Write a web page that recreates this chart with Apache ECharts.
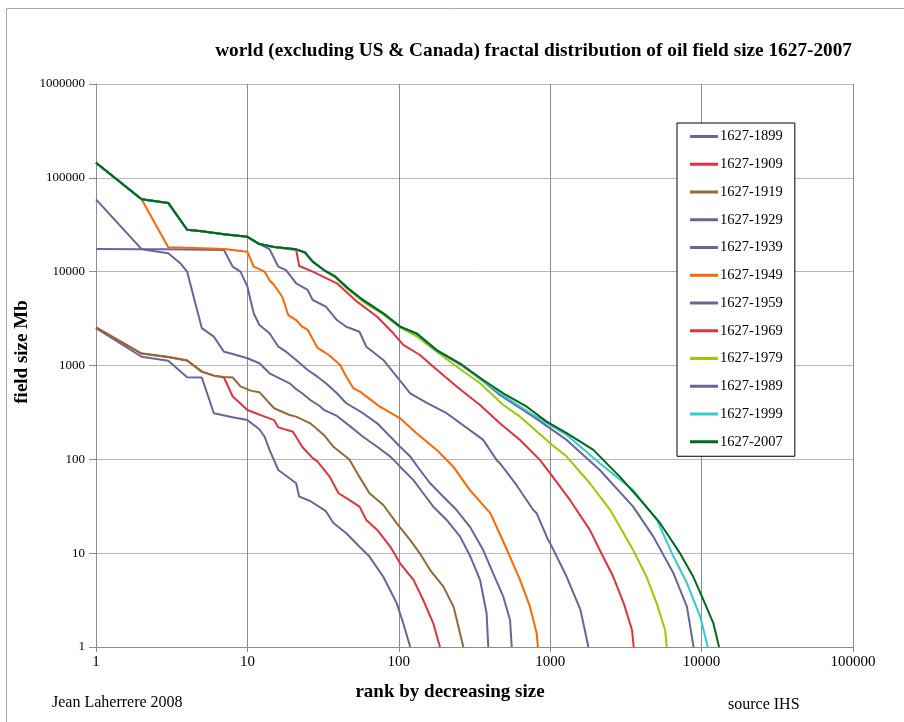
<!DOCTYPE html>
<html>
<head>
<meta charset="utf-8">
<script src="https://cdn.jsdelivr.net/npm/echarts@6/dist/echarts.min.js"></script>
<style>
html,body{margin:0;padding:0;background:#fff;}
#chart{width:904px;height:722px;}
</style>
</head>
<body>
<div id="chart"></div>
<script>
// ---- Data (rank, field size Mb) ----
const seriesNames = ['1627-1899','1627-1909','1627-1919','1627-1929','1627-1939','1627-1949',
                     '1627-1959','1627-1969','1627-1979','1627-1989','1627-1999','1627-2007'];

const xTickLabels = ['1','10','100','1000','10000','100000'];
const yTickLabels = ['1','10','100','1000','10000','100000','1000000'];

const s1899 = [[1,2500],[2,1240],[3,1125],[4,750],[5,745],[6,310],[8,281],[10,262],[12,209],[13,174],[14,126],[16,77],[21,55.6],[22,40],[26,36],[33,28],[37,21],[45,16.3],[55,11.7],[64,9.2],[79,5.6],[97,2.92],[107,1.79],[119,1]];
const s1909 = [[1,2550],[2,1340],[3,1230],[4,1130],[5,860],[6,780],[7,745],[8,467],[10,336],[13,285],[15,262],[16,219],[20,197],[23,136],[27,103],[29,95],[35,65],[40,43.5],[47,36.9],[55,31.3],[61,22.6],[72,17.7],[88,11.7],[102,7.8],[125,5.2],[145,3.17],[169,1.79],[187,1]];
const s1919 = [[1,2550],[2,1340],[3,1230],[4,1130],[5,860],[6,780],[7,755],[8,745],[9,600],[10.5,540],[12,520],[15,350],[19,297],[21,285],[26,242],[32,182],[37,136],[47,100],[55,65],[64,43.5],[79,32.6],[97,20.8],[119,13.8],[138,9.9],[161,6.6],[197,4.4],[230,2.69],[267,1]];
const s1929 = [[1,17400],[2,17300],[3,15700],[3.6,12300],[4,10000],[5,2500],[6,2030],[7,1403],[8,1327],[10,1195],[12,1056],[14,826],[19,646],[21,560],[23,506],[26,429],[30,370],[32,336],[39,290],[48,223],[58,174],[72,136],[88,107],[102,83.5],[125,60],[145,43.5],[169,31.3],[207,22.6],[254,15],[297,9.2],[344,5.2],[380,2.29],[390,1]];
const s1939 = [[1,59000],[2,17400],[4,17200],[7,17000],[8,11300],[9,10000],[10,6920],[11,3600],[12,2700],[14,2205],[16,1587],[18,1403],[21,1145],[25,896],[29,760],[33,646],[39,506],[45,396],[58,310],[72,242],[88,174],[102,136],[119,107],[138,77],[161,55.6],[197,40],[241,28.8],[295,19.1],[361,10.8],[420,6.1],[490,3.44],[543,1.94],[557,1]];
const s1949 = [[1,145000],[2,59000],[3,18200],[5,17800],[7,17400],[10,16300],[11,11300],[13,10000],[14,8100],[15,7210],[17,5410],[18.6,3450],[21,3050],[23,2590],[25,2400],[29,1550],[32,1400],[35,1270],[41,1013],[45,760],[50,575],[56,520],[75,364],[102,274],[131,190],[178,126],[229,83.5],[295,47],[403,26.6],[519,10.8],[632,5.2],[735,2.69],[814,1.4],[830,1]];
const s1959 = [[1,145000],[2,59000],[3,54000],[4,28000],[5,27000],[7,25000],[10,23500],[12,19700],[14,17400],[16,11300],[18,10400],[21,7520],[25,6380],[27,4990],[33,4230],[39,3050],[45,2590],[55,2290],[61,1587],[79,1145],[97,760],[119,506],[153,400],[207,310],[361,161],[443,98],[465,91],[600,53],[773,28.8],[814,26.6],[970,13.8],[1000,12.7],[1285,5.6],[1585,2.48],[1788,1]];
const s1969 = [[1,145000],[2,59000],[3,54000],[4,28000],[5,27000],[7,25000],[10,23500],[12,19700],[15,18300],[21,17000],[22,11500],[27,10000],[39,7520],[53,4790],[72,3310],[92,2205],[107,1655],[138,1294],[169,971],[242,594],[344,379],[465,242],[632,161],[857,98],[1000,71],[1350,36.9],[1827,17.7],[2125,10.8],[2610,5.6],[3060,2.92],[3470,1.52],[3560,1]];
const s1979 = [[1,145000],[2,59000],[3,54000],[4,28000],[5,27000],[7,25000],[10,23500],[12,19700],[15,18300],[21,17300],[24,16000],[27,12800],[32,10400],[38,8700],[46,6500],[58,4800],[79,3500],[102,2550],[131,2050],[161,1587],[242,971],[344,646],[490,379],[632,285],[1000,148],[1285,107],[1827,55.6],[2493,28.8],[3530,10.8],[4330,5.6],[5050,2.92],[5740,1.52],[5890,1]];
const s1989 = [[1,145000],[2,59000],[3,54000],[4,28000],[5,27000],[7,25000],[10,23500],[12,19700],[15,18300],[21,17300],[24,16000],[27,12800],[32,10400],[38,8850],[46,6650],[58,4950],[79,3580],[102,2580],[131,2180],[178,1440],[254,1030],[361,680],[465,485],[773,285],[1285,161],[2125,77],[3530,31.3],[4800,15],[6520,6.1],[8000,2.69],[8850,1]];
const s1999 = [[1,145000],[2,59000],[3,54000],[4,28000],[5,27000],[7,25000],[10,23500],[12,19700],[15,18300],[21,17300],[24,16000],[27,12800],[32,10400],[38,8870],[46,6700],[58,5000],[79,3600],[102,2600],[131,2200],[178,1450],[254,1045],[361,690],[465,506],[773,297],[1285,182],[2125,91],[3530,47],[5070,22.6],[6520,9.2],[8000,4.8],[9800,2.1],[10980,1]];
const s2007 = [[1,145000],[2,59000],[3,54000],[4,28000],[5,27000],[7,25000],[10,23500],[12,19700],[15,18300],[21,17300],[24,16000],[27,12800],[32,10400],[38,8900],[46,6700],[58,5000],[79,3600],[102,2600],[131,2200],[178,1460],[254,1050],[361,700],[490,506],[700,364],[948,252],[1285,190],[1928,126],[2891,65],[4121,34],[5309,21],[7194,10],[8810,5.6],[10260,3.2],[11950,1.8],[13040,1]];

const seriesData = [s1899,s1909,s1919,s1929,s1939,s1949,s1959,s1969,s1979,s1989,s1999,s2007];

// ---- Styles ----
const SLATE='#666699', RED='#e2323c', BROWN='#936a35', ORANGE='#ff6600', YGREEN='#99cc00', CYAN='#33cccc', DGREEN='#006a1a';
const seriesColors = [SLATE,RED,BROWN,SLATE,SLATE,ORANGE,SLATE,RED,YGREEN,SLATE,CYAN,DGREEN];
const FONT = '"Liberation Serif","Times New Roman",serif';

const chart = echarts.init(document.getElementById('chart'), null, {renderer:'canvas'});
const option = {
  animation:false,
  backgroundColor:'#fff',
  grid:{left:96, right:51, top:84, bottom:75, containLabel:false},
  xAxis:{
    type:'log', logBase:10, min:1, max:100000, splitNumber:5,
    axisLine:{show:true, lineStyle:{color:'#8c8c8c', width:1}},
    axisTick:{show:true, length:5, lineStyle:{color:'#8c8c8c'}},
    axisLabel:{color:'#000', fontFamily:FONT, fontSize:15, margin:8,
      formatter:v=>{const i=Math.round(Math.log10(v)); return xTickLabels[i]!==undefined?xTickLabels[i]:'';}},
    splitLine:{show:true, lineStyle:{color:'#8c8c8c', width:1}}
  },
  yAxis:{
    type:'log', logBase:10, min:1, max:1000000, splitNumber:6,
    axisLine:{show:true, lineStyle:{color:'#8c8c8c', width:1}},
    axisTick:{show:true, length:7, lineStyle:{color:'#8c8c8c'}},
    axisLabel:{color:'#000', fontFamily:FONT, fontSize:13, margin:11,
      formatter:v=>{const i=Math.round(Math.log10(v)); return yTickLabels[i]!==undefined?yTickLabels[i]:'';}},
    splitLine:{show:true, lineStyle:{color:'#b8b8b8', width:1}}
  },
  legend:{
    orient:'vertical', left:677, top:123,
    backgroundColor:'#fff', borderColor:'#000', borderWidth:1,
    padding:[6,12,7,13],
    itemWidth:28, itemHeight:3, itemGap:12.75, icon:'rect',
    textStyle:{color:'#000', fontFamily:FONT, fontSize:14.5, lineHeight:15, padding:[0,0,0,-3]},
    data:seriesNames
  },
  graphic:[
    {type:'rect', silent:true, z:-10, shape:{x:6.5,y:8.5,width:1000,height:1000},
      style:{fill:'none', stroke:'#a8a8a8', lineWidth:1}},
    {type:'text', silent:true, style:{text:'world (excluding US & Canada) fractal distribution of oil field size 1627-2007',
      x:852, y:51, textAlign:'right', textVerticalAlign:'middle', align:'right', verticalAlign:'middle',
      font:'bold 19.3px '+FONT, fill:'#000'}},
    {type:'text', silent:true, style:{text:'rank by decreasing size',
      x:450, y:692, textAlign:'center', textVerticalAlign:'middle', align:'center', verticalAlign:'middle',
      font:'bold 19px '+FONT, fill:'#000'}},
    {type:'text', silent:true, rotation:Math.PI/2, x:22, y:352,
      style:{text:'field size Mb', x:0, y:0, textAlign:'center', textVerticalAlign:'middle', align:'center', verticalAlign:'middle',
      font:'bold 19px '+FONT, fill:'#000'}},
    {type:'text', silent:true, style:{text:'Jean Laherrere 2008',
      x:52, y:703, textAlign:'left', textVerticalAlign:'middle', align:'left', verticalAlign:'middle',
      font:'16px '+FONT, fill:'#000'}},
    {type:'text', silent:true, style:{text:'source IHS',
      x:728, y:705, textAlign:'left', textVerticalAlign:'middle', align:'left', verticalAlign:'middle',
      font:'16px '+FONT, fill:'#000'}}
  ],
  series: seriesNames.map((n,i)=>({
    name:n, type:'line', data:seriesData[i], showSymbol:false, symbol:'none',
    color:seriesColors[i],
    lineStyle:{color:seriesColors[i], width:2},
    itemStyle:{color:seriesColors[i]},
    emphasis:{disabled:true}, z:2+i
  }))
};
chart.setOption(option);
</script>
</body>
</html>
